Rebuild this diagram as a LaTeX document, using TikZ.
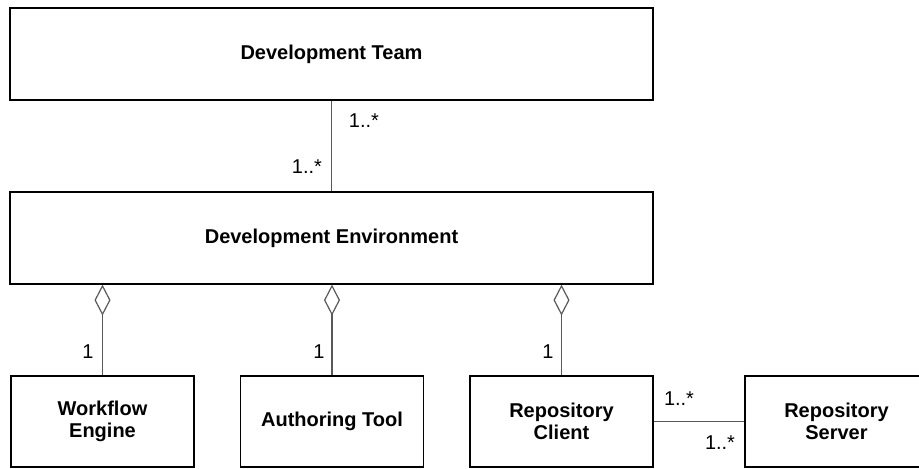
\documentclass[tikz,border=0pt]{standalone}
\usepackage{fontspec}
\setmainfont{Liberation Sans}
\usetikzlibrary{arrows.meta}

\tikzset{
  cls/.style={rectangle, draw, line width=0.6pt, align=center,
    font=\fontsize{10}{11}\selectfont\bfseries, inner sep=0pt},
  bigcls/.style={cls, minimum width=321.5pt, minimum height=46pt},
  smallcls/.style={cls, minimum width=91.5pt, minimum height=45.5pt},
  assoc/.style={draw=black!65, line width=0.6pt},
  agg/.style={assoc, {Diamond[open, length=15.5pt, width=8pt]}-},
  mult/.style={font=\fontsize{10}{12}\selectfont, inner sep=0pt}
}

\begin{document}
\begin{tikzpicture}[x=0.5pt, y=-0.5pt]
        \clip (0,0) rectangle (919,468);
        % classes
        \node[bigcls] (team) at (331.5,54) {Development Team};
        \node[bigcls] (env) at (331.5,238) {Development Environment};
        \node[smallcls] (engine) at (102.5,421.5) {Workflow\\Engine};
        \node[smallcls] (tool) at (332,421.5) {Authoring Tool};
        \node[smallcls] (client) at (561.5,421.5) {Repository\\Client};
        \node[smallcls] (server) at (836.5,421.5) {Repository\\Server};
        % associations
        \draw[assoc] (team) -- (env);
        \draw[agg] (env.south -| engine.north) -- (engine.north);
        \draw[agg] (env.south -| tool.north) -- (tool.north);
        \draw[agg] (env.south -| client.north) -- (client.north);
        \draw[assoc] (client) -- (server);
        % multiplicities
        \node[mult] (m1) at (364,121) {1..*};
        \node[mult] (m2) at (307,167) {1..*};
        \node[mult] (m3) at (88,352) {1};
        \node[mult] (m4) at (319,352) {1};
        \node[mult] (m5) at (548,352) {1};
        \node[mult] (m6) at (679,399) {1..*};
        \node[mult] (m7) at (720,443) {1..*};
    \end{tikzpicture}
\end{document}
